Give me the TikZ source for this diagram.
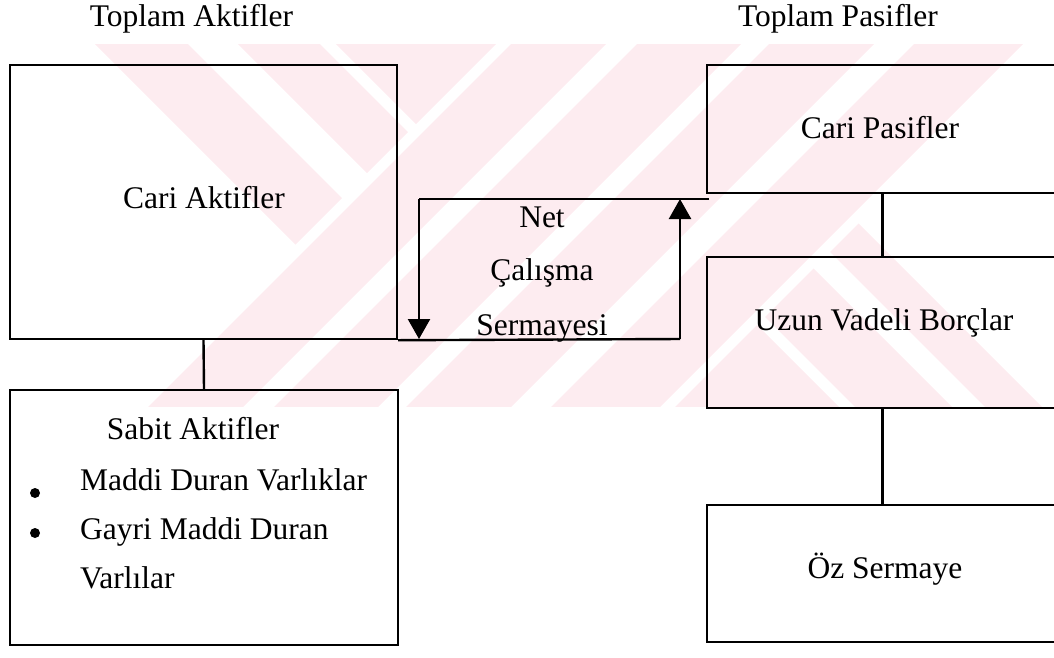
\documentclass[tikz,border=0pt]{standalone}
\usepackage{fontspec}
\setmainfont{Liberation Serif}
\usetikzlibrary{arrows.meta}
\definecolor{wmpink}{RGB}{253,236,240}
% a stripe given by u = x - y in [#1,#2] and v = x + y in [#3,#4]
\newcommand{\uvband}[4]{\fill[wmpink] ({(#1+#3)/2},{(#3-#1)/2}) -- ({(#2+#3)/2},{(#3-#2)/2}) -- ({(#2+#4)/2},{(#4-#2)/2}) -- ({(#1+#4)/2},{(#4-#1)/2}) -- cycle;}
\begin{document}
\begin{tikzpicture}[x=1pt,y=-1pt,
  font=\fontsize{31.5}{38}\selectfont,
  box/.style={draw, line width=2.4pt, inner sep=0pt},
  lbl/.style={inner sep=0pt, anchor=base},
  item/.style={inner sep=0pt, anchor=base west},
  bullet/.style={circle, fill, inner sep=0pt, minimum size=10pt},
  link/.style={line width=2.4pt},
  flow/.style={line width=2.4pt, -{Triangle[width=22pt,length=20pt]}}]
\useasboundingbox (0,0) rectangle (1054,657);

% background emblem
\begin{scope}
  \clip (0,44) rectangle (1054,406);
  \uvband{51}{144}{-2000}{540}
  \uvband{194}{276}{-2000}{540}
  \uvband{292}{2000}{-2000}{540}
  \uvband{-2000}{2000}{555}{650}
  \uvband{-2000}{2000}{681}{785}
  \uvband{-2000}{2000}{813}{918}
  \uvband{-2000}{2000}{958}{1067}
  \uvband{-2000}{432}{1082}{4000}
  \uvband{448}{545}{1082}{4000}
  \uvband{578}{635}{1082}{4000}
\end{scope}

% headings
\node[lbl] (toplamA) at (191.5,26) {Toplam Aktifler};
\node[lbl] (toplamP) at (838,26) {Toplam Pasifler};

% asset side
\node[box, minimum width=387pt, minimum height=274pt] (cariA) at (203.5,202) {};
\node[lbl] (cariAtxt) at (204,208) {Cari Aktifler};
\node[box, minimum width=388pt, minimum height=255pt] (sabit) at (204,517.5) {};
\node[lbl] (sabitTxt) at (193,439) {Sabit Aktifler};
\node[bullet] (b1) at (35,493) {};
\node[item] (i1) at (80,490) {Maddi Duran Varlıklar};
\node[bullet] (b2) at (35,533) {};
\node[item] (i2) at (80,539) {Gayri Maddi Duran};
\node[item] (i3) at (80,588) {Varlılar};

% liability side
\node[box, minimum width=351pt, minimum height=128pt] (cariP) at (882.5,129) {};
\node[lbl] (cariPtxt) at (880,138) {Cari Pasifler};
\node[box, minimum width=351pt, minimum height=151pt] (uzun) at (882.5,332.5) {};
\node[lbl] (uzunTxt) at (884,330) {Uzun Vadeli Borçlar};
\node[box, minimum width=351pt, minimum height=137pt] (oz) at (882.5,573.5) {};
\node[lbl] (ozTxt) at (885,578) {Öz Sermaye};

% net working capital
\node[lbl] (net1) at (542,227) {Net};
\node[lbl] (net2) at (542,280) {Çalışma};
\node[lbl] (net3) at (542,335) {Sermayesi};

% connectors
\draw[link] (cariA.south) -- (sabit.north);
\draw[link] (cariP.south) -- (uzun.north);
\draw[link] (uzun.south) -- (oz.north);

\coordinate (nbR) at (680,339);
\coordinate (ntR) at (680,199);
\coordinate (ntE) at (709,199);
\coordinate (ntL) at (419,199);
\coordinate (nbL) at (419,339);
\draw[link] (cariA.south east) -- (nbR);
\draw[flow] (nbR) -- (ntR);
\draw[link] (ntE) -- (ntL);
\draw[flow] (ntL) -- (nbL);
\end{tikzpicture}
\end{document}
